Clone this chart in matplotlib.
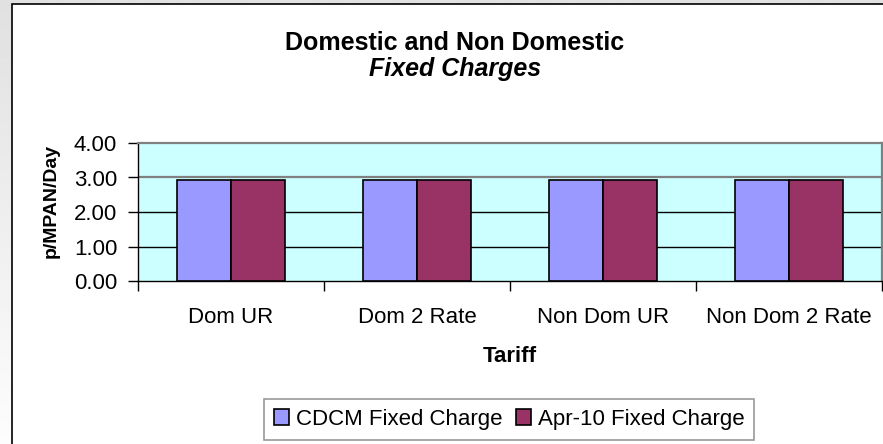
import numpy as np
import matplotlib
matplotlib.use("Agg")
import matplotlib.pyplot as plt
from matplotlib.patches import Rectangle

plt.rcParams['font.family'] = ['Liberation Sans', 'DejaVu Sans']

tariffs = ["Dom UR", "Dom 2 Rate", "Non Dom UR", "Non Dom 2 Rate"]
cdcm_fixed = [2.92, 2.92, 2.92, 2.92]
apr10_fixed = [2.92, 2.92, 2.92, 2.92]
series_names = ["CDCM Fixed Charge", "Apr-10 Fixed Charge"]
yticks = [0.0, 1.0, 2.0, 3.0, 4.0]

W, H = 883, 444
fig = plt.figure(figsize=(W / 100, H / 100), dpi=100)

# grey gradient backdrop behind the chart box
bg = fig.add_axes([0, 0, 1, 1], zorder=-10)
grad = np.linspace(0.88, 0.99, 256).reshape(-1, 1)
bg.imshow(grad, cmap="gray", vmin=0, vmax=1, aspect="auto", extent=[0, 1, 0, 1])
bg.set_axis_off()

# white chart box with black border
fig.patches.append(Rectangle((11.5 / W, -0.05), 1.0, 1 - 4.5 / H + 0.05,
                             transform=fig.transFigure, facecolor="white",
                             edgecolor="black", linewidth=1.2, zorder=-5))

ax = fig.add_axes([138 / W, 1 - 281 / H, (882 - 138) / W, (281 - 143) / H])
ax.set_facecolor("#CCFFFF")

x = np.arange(len(tariffs))
w = 0.29
ax.bar(x - w / 2, cdcm_fixed, w, color="#9999FF", edgecolor="black",
       linewidth=1.2, label=series_names[0], zorder=3)
ax.bar(x + w / 2, apr10_fixed, w, color="#993366", edgecolor="black",
       linewidth=1.2, label=series_names[1], zorder=3)

ax.set_xlim(-0.5, len(tariffs) - 0.5)
ax.set_ylim(0, 4)
for yv in yticks[1:-1]:
    col = "#808080" if yv == 3.0 else "black"
    lw = 1.6 if yv == 3.0 else 1.0
    ax.axhline(yv, color=col, linewidth=lw, zorder=1)

ax.set_yticks(yticks)
ax.set_yticklabels([f"{v:.2f}" for v in yticks], fontsize=16)
ax.tick_params(axis="y", direction="out", length=7, width=1, pad=8)

ax.set_xticks(x)
ax.set_xticklabels(tariffs, fontsize=16)
ax.set_xticks(np.arange(len(tariffs) + 1) - 0.5, minor=True)
ax.tick_params(axis="x", which="major", length=0, pad=19)
ax.tick_params(axis="x", which="minor", direction="out", length=7, width=1)

for s in ["top", "right"]:
    ax.spines[s].set_color("#808080")
    ax.spines[s].set_linewidth(1.6)
for s in ["left", "bottom"]:
    ax.spines[s].set_color("black")
    ax.spines[s].set_linewidth(1.0)

ax.set_xlabel("Tariff", fontsize=16, fontweight="bold", labelpad=13)
ax.set_ylabel("p/MPAN/Day", fontsize=14, fontweight="bold")
ax.yaxis.set_label_coords(-78 / (882 - 138), (281 - 201) / (281 - 143))

fig.text(455 / W, 1 - 43 / H, "Domestic and Non Domestic", fontsize=18,
         fontweight="bold", ha="center", va="center")
fig.text(455 / W, 1 - 69 / H, "Fixed Charges", fontsize=18,
         fontweight="bold", style="italic", ha="center", va="center")

leg = fig.legend(loc="center", bbox_to_anchor=(509 / W, 1 - 419 / H), ncol=2,
                 fontsize=16, frameon=True, fancybox=False, handlelength=0.7,
                 handleheight=0.7, handletextpad=0.3, columnspacing=0.6,
                 borderpad=0.45, borderaxespad=0)
leg.get_frame().set_edgecolor("#808080")
leg.get_frame().set_linewidth(1.2)

fig.savefig("out.png", dpi=100)
